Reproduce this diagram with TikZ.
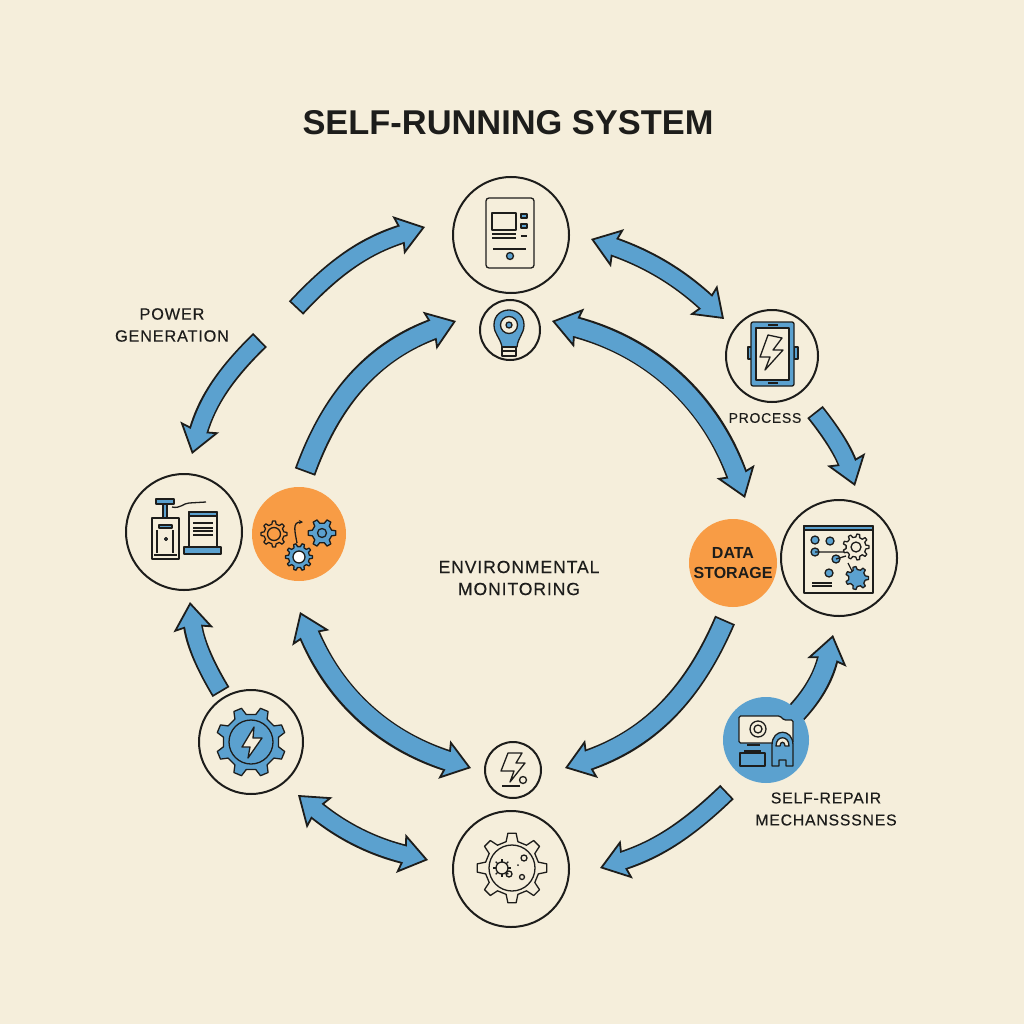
\documentclass[tikz,border=0pt]{standalone}
\usepackage{fontspec}
\setmainfont{Liberation Sans}
\newfontfamily\labelfont[LetterSpace=5,FakeBold=0.3]{Liberation Sans}
\usetikzlibrary{arrows.meta,calc}
\definecolor{paper}{HTML}{F5EEDB}
\definecolor{ink}{HTML}{1D1D1B}
\definecolor{flowblue}{HTML}{5BA1CF}
\definecolor{warm}{HTML}{F89C45}
\tikzset{
  headtip/.tip={Stealth[length=28pt,width=40pt,inset=4pt,fill=flowblue,line width=1.8pt]},
  ring/.style={circle, draw=ink, line width=2pt, fill=paper, inner sep=0pt, minimum size=#1},
  disc/.style={circle, fill=#1, inner sep=0pt},
  arr/.style={draw=ink, line width=#1pt+3.6pt, -{headtip},
    postaction={draw=flowblue, line width=#1pt, -, shorten <=1.8pt, shorten >=19pt}},
  arr/.default=16,
  dblarr/.style={draw=ink, line width=#1pt+3.6pt, {headtip}-{headtip},
    postaction={draw=flowblue, line width=#1pt, -, shorten <=19pt, shorten >=19pt}},
  dblarr/.default=16,
  icon/.style={draw=ink, line width=1.3pt, line join=round},
  blueicon/.style={icon, fill=flowblue},
  paleicon/.style={icon, fill=paper},
  lbl/.style={font=\labelfont\fontsize{#1}{22}\selectfont, text=ink, align=center, inner sep=0pt}
}
\newcommand{\gearicon}[5][icon]{%
  \pgfmathsetmacro{\gearstep}{360/#5}%
  \draw[shift={(#2)},#1] (-.28*\gearstep:#4)
    \foreach \i [evaluate=\i as \toothang using (\i-1)*\gearstep] in {1,...,#5} {
      -- (\toothang-.28*\gearstep:#4) -- (\toothang-.15*\gearstep:#3)
      -- (\toothang+.15*\gearstep:#3) -- (\toothang+.28*\gearstep:#4)} -- cycle;}
\begin{document}
\begin{tikzpicture}[x=1pt, y=-1pt]
  \fill[paper] (0,0) rectangle (1024,1024);
  \useasboundingbox (0,0) rectangle (1024,1024);
  \node[font=\bfseries\fontsize{34.4}{40}\selectfont, text=ink, inner sep=0pt] (title) at (508,123) {SELF-RUNNING SYSTEM};
  % rings
  \node[ring=116pt] (tablet) at (511,235) {};
  \node[ring=60pt] (bulb) at (510,330) {};
  \node[ring=92pt] (phone) at (772,356) {};
  \node[ring=116pt] (panel) at (839,558) {};
  \node[ring=116pt] (press) at (184,532) {};
  \node[disc=warm, minimum size=94pt] (cogs) at (299,534) {};
  \node[disc=warm, minimum size=88pt, font=\bfseries\fontsize{16}{20}\selectfont, align=center, text=ink] (data) at (733,563) {DATA\\STORAGE};
  \node[ring=104pt] (power) at (251,742) {};
  \node[ring=116pt] (bugs) at (511,869) {};
  \node[ring=56pt] (spark) at (513,770) {};
  \coordinate (pwrtail) at (260,340);
  \coordinate (toptail) at (296,308);
  \coordinate (repairhub) at (766,740);
  % outer loop
  \draw[arr] (toptail) to[bend left=15] ($(tablet)+(-86,-8)$);
  \draw[arr] (pwrtail) to[bend right=15] ($(press)+(8,-78)$);
  \draw[arr] ($(power)+(-30,-50)$) to[bend left=12] ($(press)+(6,70)$);
  \draw[dblarr] ($(power)+(47,53)$) to[bend right=13] ($(bugs)+(-83,-9)$);
  \draw[dblarr] ($(tablet)+(80,4)$) to[bend left=12] ($(phone)+(-48,-37)$);
  \draw[arr] ($(phone)+(43,56)$) to[bend left=10] ($(panel)+(16,-72)$);
  \draw[arr=18] (repairhub) to[bend right=20] ($(panel)+(-6,77)$);
  % inner loop
  \draw[arr=18] ($(cogs)+(6,-62)$) to[bend left=25] ($(bulb)+(-54,-9)$);
  \draw[dblarr=18] ($(cogs)+(1,78)$) to[bend right=25] ($(spark)+(-42,-2)$);
  \draw[dblarr=18] ($(bulb)+(42,-9)$) to[bend left=28] ($(data)+(12,-65)$);
  \draw[arr=18] ($(data)+(-8,57)$) to[bend left=24] ($(spark)+(52,-2)$);
  \node[disc=flowblue, minimum size=86pt] (repair) at (766,740) {};
  \draw[arr] ($(repair)+(-39,52)$) to[bend left=13] ($(bugs)+(89,-1)$);
  % labels
  \node[lbl=16.3] (powerlbl) at (172,325) {POWER\\GENERATION};
  \node[lbl=14] (processlbl) at (765,418) {PROCESS};
  \node[lbl=17.6] (envlbl) at (519,578) {ENVIRONMENTAL\\MONITORING};
  \node[lbl=15.8] (repairlbl) at (826,809) {SELF-REPAIR\\MECHANSSSNES};
  % tablet icon
  \draw[icon, rounded corners=3pt] (486,198) rectangle (534,268);
  \draw[icon] (492,213) rectangle (516,230);
  \draw[blueicon] (521,214) rectangle (527,218) (521,224) rectangle (527,228);
  \draw[icon] (492,234) -- (516,234) (492,238) -- (516,238) (521,236) -- (527,236) (493,249) -- (526,249);
  \draw[blueicon] (510,256) circle (3.5);
  % bulb icon
  \draw[blueicon] (502,347) .. controls (500,337) and (494,334) .. (494,325) .. controls (494,305) and (524,305) .. (524,325) .. controls (524,334) and (518,337) .. (517,347) -- cycle;
  \draw[paleicon] (509,325) circle (8.5);
  \draw[blueicon] (509,325) circle (3);
  \draw[paleicon] (502,347) rectangle (516,356);
  \draw[icon] (502,351) -- (516,351);
  % phone icon
  \draw[blueicon] (748,347) rectangle (752,359) (794,347) rectangle (798,359);
  \draw[blueicon, rounded corners=2pt] (751,322) rectangle (794,386);
  \draw[paleicon] (756,328) rectangle (789,380);
  \draw[icon] (768,325) -- (778,325) (768,383) -- (778,383);
  \draw[paleicon] (768,335) -- (782,338) -- (773,350) -- (783,350) -- (765,370) -- (770,357) -- (760,357) -- cycle;
  % press icon
  \draw[blueicon] (156,499) rectangle (174,504) (163,504) rectangle (167,518);
  \draw[icon] (152,518) rectangle (179,559);
  \draw[blueicon] (159,525) rectangle (172,528);
  \draw[icon] (157,530) -- (157,553) (173,530) -- (173,553) (154,555) -- (177,555);
  \draw[blueicon] (166,539) circle (1.5);
  \draw[icon] (172,507) .. controls (180,509) and (184,503) .. (189,503) -- (206,502);
  \draw[icon] (189,512) rectangle (217,547);
  \draw[blueicon] (189,512) rectangle (217,516);
  \draw[icon] (193,523) -- (213,523) (193,528) -- (213,528) (193,531) -- (213,531) (193,535) -- (213,535);
  \draw[blueicon] (184,547) rectangle (221,554);
  % cog icons
  \gearicon[icon, fill=warm]{274,534}{13}{10}{8}
  \draw[icon] (274,534) circle (6.5);
  \gearicon[blueicon]{322,533}{14}{10}{6}
  \draw[icon] (322,533) circle (4.5);
  \gearicon[blueicon]{299,557}{13.5}{10.5}{10}
  \draw[icon, fill=white] (299,557) circle (6);
  \draw[icon, -{Stealth[length=4pt,width=4pt]}] (297,543) .. controls (295,532) and (292,522) .. (303,522);
  % power icon
  \gearicon[blueicon, rotate=22.5]{251,742}{35}{28}{8}
  \draw[icon] (251,742) circle (22);
  \draw[icon, fill=paper] (254,727) -- (242,747) -- (250,747) -- (248,758) -- (262,738) -- (253,738) -- cycle;
  % panel icon
  \draw[icon] (804,526) rectangle (873,593);
  \draw[blueicon] (804,526) rectangle (873,530);
  \foreach \dotx/\doty in {815/540, 830/541, 815/552, 836/559, 829/573}
    \draw[blueicon] (\dotx,\doty) circle (4);
  \draw[icon] (815,552) -- (846,552) (836,559) -- (846,556) (848,563) -- (853,573);
  \gearicon[paleicon]{856,547}{13}{10}{9}
  \draw[icon] (856,547) circle (5);
  \gearicon[blueicon]{857,578}{11.5}{8.5}{7}
  \draw[icon] (812,583) -- (832,583) (812,586) -- (832,586);
  % repair icon
  \draw[icon, fill=paper, rounded corners=1.5pt] (739,743) -- (739,716) -- (780,716) -- (784,720) -- (793,720) -- (793,743) -- cycle;
  \draw[paleicon] (758,729) circle (8);
  \draw[icon] (758,729) circle (4);
  \draw[icon] (747,745) -- (760,745);
  \draw[icon, fill=flowblue] (740,753) rectangle (765,766);
  \draw[icon] (744,751) -- (761,751);
  \draw[icon, fill=flowblue] (772,766) -- (772,745) .. controls (772,728) and (793,728) .. (793,745) -- (793,766) -- (786,766) -- (786,760) -- (779,760) -- (779,766) -- cycle;
  \draw[icon, fill=paper] (776,746) .. controls (776,735) and (789,735) .. (789,746) -- (785,746) .. controls (785,741) and (780,741) .. (780,746) -- cycle;
  % bug gear icon
  \gearicon[icon]{512,868}{35}{27}{8}
  \draw[icon] (512,868) circle (23);
  \draw[icon] (502,868) circle (6);
  \foreach \spike in {0,45,...,315}
    \draw[icon, shift={(502,868)}] (\spike:6) -- (\spike:9);
  \draw[icon] (524,858) circle (3) (522,877) circle (2.5) (509,874) circle (3);
  \fill[ink] (518,865) circle (1);
  % spark icon
  \draw[icon] (508,753) -- (522,753) -- (516,763) -- (525,763) -- (510,782) -- (514,771) -- (501,771) -- cycle;
  \draw[icon] (502,786) -- (520,786);
  \draw[icon] (523,780) circle (3.5);
\end{tikzpicture}
\end{document}
